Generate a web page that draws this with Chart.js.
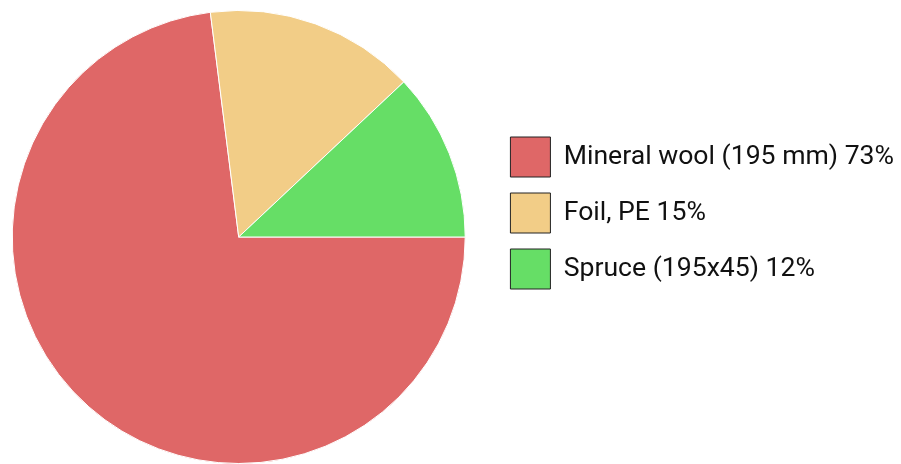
<!DOCTYPE html>
<html>
<head>
<meta charset="utf-8">
<script src="https://cdn.jsdelivr.net/npm/chart.js@4"></script>
<style>
html,body{margin:0;padding:0;background:#fff;overflow:hidden;}
/* canvas a bit wider and shifted left so pie and legend sit where the reference has them */
#wrap{position:relative;left:-17px;width:921px;height:464px;}
</style>
</head>
<body>
<div id="wrap"><canvas id="myPie"></canvas></div>
<script>
var labels = ["Mineral wool (195 mm) 73%", "Foil, PE 15%", "Spruce (195x45) 12%"];
var shares = [73, 15, 12];
var sliceColors = ["#DF6767", "#F2CD87", "#66DE66"];

new Chart("myPie", {
  type: "pie",
  data: {
    labels: labels,
    datasets: [{
      data: shares,
      backgroundColor: sliceColors,
      borderColor: "#ffffff",
      borderWidth: 1
    }]
  },
  options: {
    responsive: true,
    maintainAspectRatio: false,
    animation: false,
    rotation: 90,
    layout: { padding: { top: 10, left: 0, right: 0, bottom: 0 } },
    plugins: {
      tooltip: { enabled: false },
      legend: {
        position: "right",
        align: "start",
        title: { display: true, text: "", font: { size: 10 }, padding: { top: 99, bottom: 0 } },
        labels: {
          boxWidth: 40,
          boxHeight: 40,
          padding: 16,
          color: "#111111",
          font: { family: "Roboto", size: 26.6 },
          generateLabels: function(chart) {
            return chart.data.labels.map(function(l, i) {
              return {
                text: l,
                fillStyle: sliceColors[i],
                strokeStyle: "#222222",
                fontColor: "#111111",
                lineWidth: 1,
                hidden: false,
                index: i
              };
            });
          }
        }
      }
    }
  }
});
</script>
</body>
</html>
